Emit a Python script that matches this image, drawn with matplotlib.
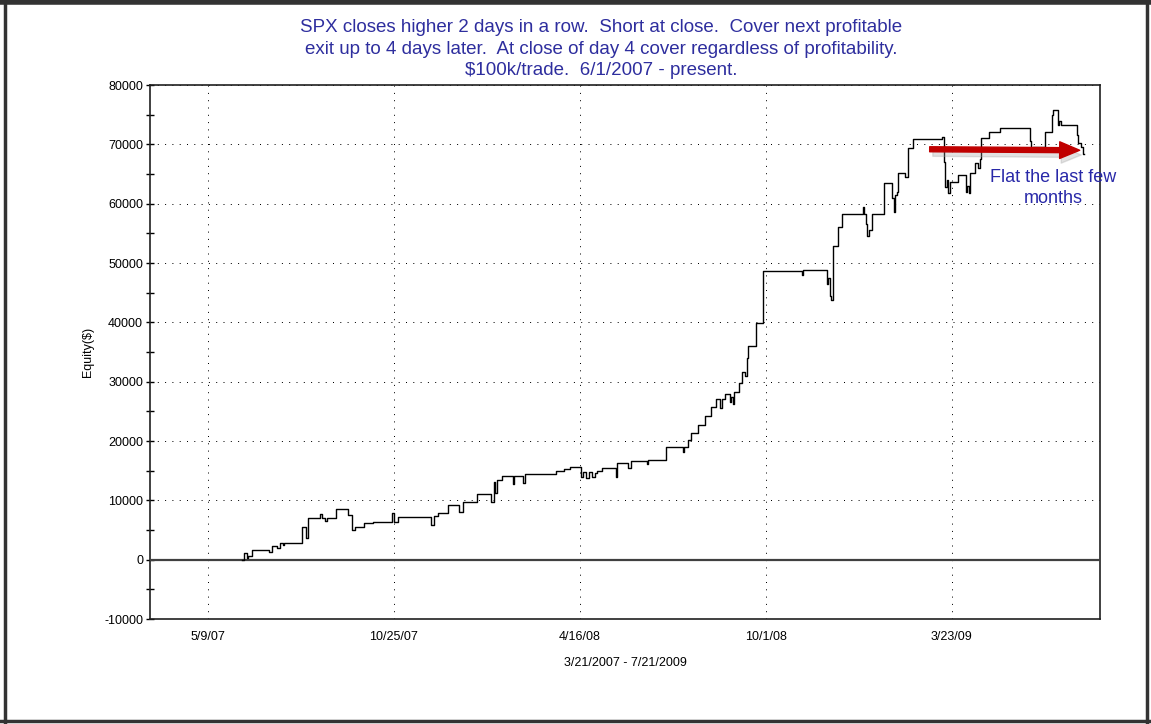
import numpy as np
import matplotlib
matplotlib.use("Agg")
import matplotlib.pyplot as plt
from matplotlib.ticker import MultipleLocator, FuncFormatter
from matplotlib.lines import Line2D

plt.rcParams['font.family'] = ['Liberation Sans', 'DejaVu Sans']

# trading-day index (0 = 3/21/2007) and equity after each change
bars = [59, 60, 62, 63, 65, 76, 78, 81, 83, 85, 86, 97, 100, 101, 109, 110, 112, 113,
        119, 127, 129, 131, 137, 143, 155, 156, 159, 180, 182, 184, 191, 198, 200, 209,
        218, 220, 221, 222, 225, 232, 233, 239, 240, 260, 265, 269, 270,
        276, 277, 279, 281, 283, 285, 286, 289, 298, 299, 306, 308, 318, 319, 330,
        341, 342, 344, 346, 351, 355, 359, 362, 365, 366, 368, 371, 372, 373, 374,
        377, 379, 381, 382, 383, 388, 392, 417, 418, 433, 434, 435, 436, 437, 440, 443,
        456, 457, 458, 459, 460, 462, 470, 475, 476, 477, 478, 479, 483, 485, 488,
        507, 508, 509, 510, 511, 512, 517, 522, 523, 524, 525, 528, 530, 531, 532, 537, 544,
        563, 564, 565, 573, 577, 578, 581, 582, 583, 593, 594, 596, 597, 598]
equity = [0, 1080, 300, 600, 1640, 1300, 2300, 2000, 2800, 2500, 2760, 5460, 3660, 7080, 7700, 7080, 6600, 7080,
          8490, 7530, 5000, 5560, 6240, 6400, 7900, 6300, 7250, 5850, 7300, 7820, 9270, 8090, 9780, 11100,
          9800, 13150, 11300, 13400, 14160, 12700, 14160, 12900, 14440, 14950, 15200, 15570, 15700,
          13990, 14800, 13700, 14700, 14000, 14600, 14900, 15510, 13900, 16350, 15400, 16690, 16100, 16800, 18940,
          18200, 18940, 20170, 21400, 22700, 24270, 25790, 27090, 25500, 27090, 27930, 26500, 27500, 26300, 28210,
          29830, 31690, 31000, 34000, 36020, 39840, 48660, 48000, 48830, 46500, 47500, 44500, 43770, 52870, 56030, 58220,
          59500, 58220, 56500, 54500, 55500, 58220, 63540, 61000, 58660, 61500, 62000, 65120, 64500, 69320, 70900,
          71300, 67000, 62870, 64000, 61750, 63600, 64840, 62030, 63000, 61800, 65120, 66810, 66000, 67500, 71020, 72040, 72710,
          70500, 69300, 69610, 72040, 74950, 75790, 73270, 74000, 73270, 71500, 70190, 69500, 68330, 68330]

tick_bars = [37, 156, 275, 394, 513]
tick_labels = ["5/9/07", "10/25/07", "4/16/08", "10/1/08", "3/23/09"]

fig = plt.figure(figsize=(11.51, 7.24), dpi=100)
ax = fig.add_axes([150/1151, 105/724, 950/1151, 534/724])

ax.plot(bars, equity, color='black', lw=1.0, drawstyle='steps-post', zorder=4)
ax.axhline(0, color='#404040', lw=1.6, zorder=3)

ax.set_xlim(0, 608)
ax.set_ylim(-10000, 80000)
ax.set_xticks(tick_bars)
ax.set_xticklabels(tick_labels)
ax.yaxis.set_major_locator(MultipleLocator(10000))
ax.yaxis.set_minor_locator(MultipleLocator(5000))
ax.yaxis.set_major_formatter(FuncFormatter(lambda v, p: "%d" % v))
ax.tick_params(axis='x', length=0, pad=9, labelsize=9)
ax.tick_params(axis='y', which='both', direction='inout', length=6, width=1, labelsize=9, pad=2)
ax.grid(True, color='black', lw=0.72, linestyle=(0, (1, 6.3)))
for s in ax.spines.values():
    s.set_linewidth(1.2)
    s.set_color('#202020')

ax.set_ylabel("Equity($)", fontsize=9, labelpad=7)
ax.set_xlabel("3/21/2007 - 7/21/2009", fontsize=9, labelpad=10)

fig.text(601/1151, 1 - 49/724,
         "SPX closes higher 2 days in a row.  Short at close.  Cover next profitable\n"
         "exit up to 4 days later.  At close of day 4 cover regardless of profitability.\n"
         "$100k/trade.  6/1/2007 - present.",
         ha='center', va='center', fontsize=13.5, color='#2E2E9E', linespacing=1.38)

# arrow with soft shadow
ax.annotate("", xy=(596, 68200), xytext=(501, 68400),
            arrowprops=dict(arrowstyle='simple,head_length=1.2,head_width=1.0,tail_width=0.3',
                            color='#A0A0A0', alpha=0.3, mutation_scale=12, shrinkA=0, shrinkB=0), zorder=5)
ax.annotate("", xy=(595, 69000), xytext=(499, 69170),
            arrowprops=dict(arrowstyle='simple,head_length=1.2,head_width=1.0,tail_width=0.3',
                            color='#C00000', mutation_scale=12, shrinkA=0, shrinkB=0), zorder=6)
ax.text(578, 62600, "Flat the last few\nmonths", ha='center', va='center', fontsize=13,
        color='#2828A8', linespacing=1.3, zorder=7)

# outer frame
frame = [((0, 1), (1 - 2/724, 1 - 2/724), 4), ((5/1151, 5/1151), (0, 1), 2.5),
         ((0, 1), (3/724, 3/724), 2.5), ((1147/1151, 1147/1151), (0, 1), 2.5)]
for xs, ys, w in frame:
    fig.add_artist(Line2D(xs, ys, transform=fig.transFigure, color='#333333', lw=w))

fig.savefig("out.png", dpi=100)
